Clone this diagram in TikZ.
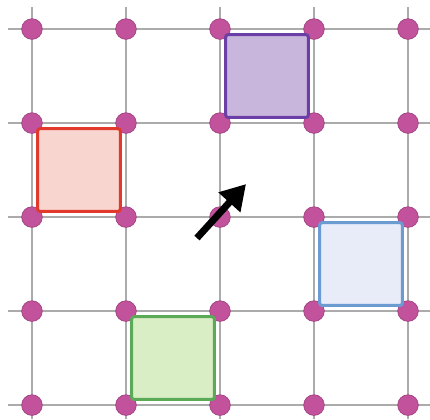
\documentclass[tikz,border=0pt]{standalone}
\usetikzlibrary{arrows.meta}
\definecolor{gridgray}{HTML}{ABABAB}
\definecolor{dotpink}{HTML}{C2529C}
\definecolor{dotedge}{HTML}{9E3F7E}
\definecolor{sqred}{HTML}{E2392D}
\definecolor{sqpurple}{HTML}{6B3FA6}
\definecolor{sqblue}{HTML}{6B9BD1}
\definecolor{sqgreen}{HTML}{5BAA58}
\definecolor{fillred}{HTML}{F9D5D0}
\definecolor{fillpurple}{HTML}{C8B6DC}
\definecolor{fillblue}{HTML}{E7ECF8}
\definecolor{fillgreen}{HTML}{DAEEC5}

\begin{document}
\begin{tikzpicture}[
    x=2cm, y=2cm,
    gridline/.style={gridgray, line width=1.2pt},
    latticept/.style={circle, fill=dotpink, draw=dotedge, line width=0.4pt, inner sep=0pt, minimum size=12.5pt},
    cellbox/.style={draw, rounded corners=1.5pt, minimum size=1.76cm, inner sep=0pt, line width=1.8pt},
    movearrow/.style={-{Triangle[length=15pt, width=17pt]}, line width=4.2pt, black}
]
    \useasboundingbox (-0.34,-0.149) rectangle (4.234,4.309);

    % lattice lines
    \foreach \k in {0,...,4} {
        \draw[gridline] (-0.26,\k) -- (4.234,\k);
        \draw[gridline] (\k,-0.149) -- (\k,4.234);
    }

    % lattice points
    \foreach \i in {0,...,4} {
        \foreach \j in {0,...,4} {
            \node[latticept] (p\i\j) at (\i,\j) {};
        }
    }

    % occupied cells
    \node[cellbox, fill=fillred, draw=sqred] (redcell) at (0.5,2.5) {};
    \node[cellbox, fill=fillpurple, draw=sqpurple] (purplecell) at (2.5,3.5) {};
    \node[cellbox, fill=fillblue, draw=sqblue] (bluecell) at (3.5,1.5) {};
    \node[cellbox, fill=fillgreen, draw=sqgreen] (greencell) at (1.5,0.5) {};

    % shift direction
    \coordinate (tail) at (1.755,1.777);
    \coordinate (tip) at (2.277,2.351);
    \draw[movearrow] (tail) -- (tip);
\end{tikzpicture}
\end{document}
